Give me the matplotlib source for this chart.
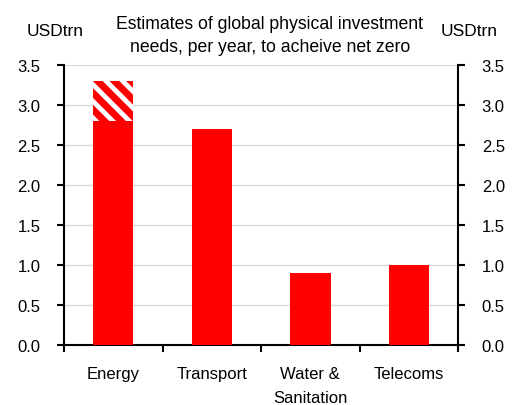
import matplotlib
matplotlib.use("Agg")
import matplotlib.pyplot as plt
import numpy as np

categories = ["Energy", "Transport", "Water &\nSanitation", "Telecoms"]
values = [2.8, 2.7, 0.9, 1.0]
extra_energy = 0.5  # hatched range above Energy bar
yticks = [0.0, 0.5, 1.0, 1.5, 2.0, 2.5, 3.0, 3.5]

plt.rcParams['font.family'] = ['Liberation Sans', 'DejaVu Sans']
plt.rcParams['hatch.linewidth'] = 5
plt.rcParams['hatch.color'] = '#ff0000'

fig = plt.figure(figsize=(5.2, 4.06), dpi=100)
ax = fig.add_axes([0.123, 0.148, 0.758, 0.689])

x = np.arange(len(categories))
ax.bar(x, values, width=0.41, color='#ff0000', zorder=3)
ax.bar(x[0], extra_energy, bottom=values[0], width=0.41, color='white',
       edgecolor='#ff0000', linewidth=0, hatch='\\\\', zorder=3)

ax.set_xlim(-0.5, len(categories) - 0.5)
ax.set_ylim(0, 3.5)
ax.set_yticks(yticks)
ax.set_yticklabels([f"{v:.1f}" for v in yticks])
ax.yaxis.grid(True, color='#d9d9d9', linewidth=1, zorder=0)
ax.set_axisbelow(True)

ax.set_xticks(np.arange(-0.5, len(categories), 1.0))
ax.set_xticklabels([])
ax.set_xticks(x, minor=True)
labels = ax.set_xticklabels(categories, minor=True, fontsize=12)
for t in labels:
    t.set_linespacing(1.8)
ax.tick_params(axis='x', which='major', direction='out', length=5, width=1.5)
ax.tick_params(axis='x', which='minor', length=0, pad=15)
ax.tick_params(axis='y', which='both', direction='out', length=5, width=1.5,
               labelsize=12, pad=12, left=True, right=True,
               labelleft=True, labelright=True)

for s in ['left', 'right', 'bottom']:
    ax.spines[s].set_linewidth(1.5)
    ax.spines[s].set_color('black')
ax.spines['top'].set_visible(False)

fig.text(0.519, 0.912, "Estimates of global physical investment\nneeds, per year, to acheive net zero",
         ha='center', va='center', fontsize=12.7, linespacing=1.45)
fig.text(0.106, 0.922, "USDtrn", ha='center', va='center', fontsize=12.5)
fig.text(0.903, 0.922, "USDtrn", ha='center', va='center', fontsize=12.5)

fig.savefig("out.png", dpi=100)
